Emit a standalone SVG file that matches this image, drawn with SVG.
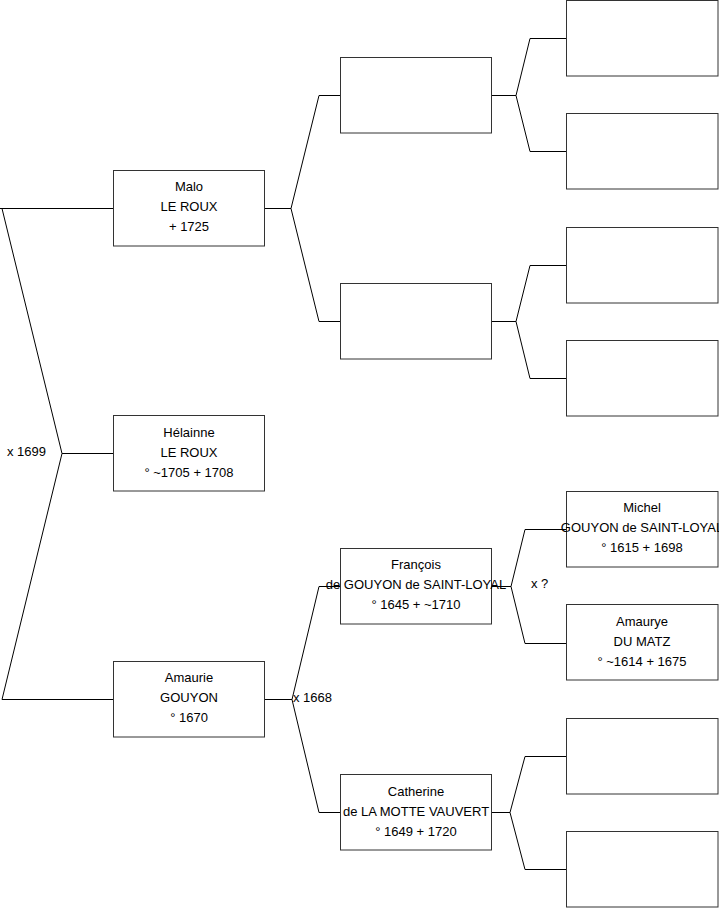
<svg xmlns="http://www.w3.org/2000/svg" width="719" height="908" viewBox="0 0 719 908">
<style>
.box{fill:#fff;stroke:#333;stroke-width:1}
.ln{fill:none;stroke:#000;stroke-width:1}
text{font-family:"Liberation Sans",Arial,sans-serif;font-size:13px;fill:#000}
.c{text-anchor:middle}
</style>
<rect width="719" height="908" fill="#fff"/>
<g id="connectors">
<path class="ln" d="M0,208.5 H113.5 M2,208.5 L62,453.5 L2,699.5 H113.5 M62,453.5 H113.5"/>
<path class="ln" d="M264.5,208.5 H291 L319,95.5 H340.5 M291,208.5 L319,321.5 H340.5"/>
<path class="ln" d="M491.5,95.5 H516 L530,38.5 H566.5 M516,95.5 L530,151.5 H566.5"/>
<path class="ln" d="M491.5,321.5 H516 L530,265.5 H566.5 M516,321.5 L530,378.5 H566.5"/>
<path class="ln" d="M264.5,699.5 H292 L319,586.5 H340.5 M292,699.5 L319,812.5 H340.5"/>
<path class="ln" d="M491.5,586.5 H511 L525,529.5 H566.5 M511,586.5 L525,643.5 H566.5"/>
<path class="ln" d="M491.5,812.5 H510 L525,756.5 H566.5 M510,812.5 L525,869.5 H566.5"/>
<text x="7" y="456">x 1699</text>
<text x="293" y="702">x 1668</text>
<text x="531" y="588">x ?</text>
</g>
<g id="malo"><rect class="box" x="113.5" y="170.5" width="151" height="75.5"/>
<text class="c" x="189" y="191">Malo</text><text class="c" x="189" y="211">LE ROUX</text><text class="c" x="189" y="231">+ 1725</text></g>
<g id="helainne"><rect class="box" x="113.5" y="415.5" width="151" height="75.5"/>
<text class="c" x="189" y="437">Hélainne</text><text class="c" x="189" y="457">LE ROUX</text><text class="c" x="189" y="477">° ~1705 + 1708</text></g>
<g id="amaurie"><rect class="box" x="113.5" y="661.5" width="151" height="75.5"/>
<text class="c" x="189" y="682">Amaurie</text><text class="c" x="189" y="702">GOUYON</text><text class="c" x="189" y="722">° 1670</text></g>
<g id="p1"><rect class="box" x="340.5" y="57.5" width="151" height="75.5"/></g>
<g id="p2"><rect class="box" x="340.5" y="283.5" width="151" height="75.5"/></g>
<g id="francois"><rect class="box" x="340.5" y="548.5" width="151" height="75.5"/>
<text class="c" x="416" y="569">François</text><text class="c" x="416" y="589">de GOUYON de SAINT-LOYAL</text><text class="c" x="416" y="609">° 1645 + ~1710</text></g>
<g id="catherine"><rect class="box" x="340.5" y="774.5" width="151" height="75.5"/>
<text class="c" x="416" y="796">Catherine</text><text class="c" x="416" y="816">de LA MOTTE VAUVERT</text><text class="c" x="416" y="836">° 1649 + 1720</text></g>
<g id="g1"><rect class="box" x="566.5" y="0.5" width="151.5" height="75.5"/></g>
<g id="g2"><rect class="box" x="566.5" y="113.5" width="151.5" height="75.5"/></g>
<g id="g3"><rect class="box" x="566.5" y="227.5" width="151.5" height="75.5"/></g>
<g id="g4"><rect class="box" x="566.5" y="340.5" width="151.5" height="75.5"/></g>
<g id="michel"><rect class="box" x="566.5" y="491.5" width="151.5" height="75.5"/>
<text class="c" x="642" y="512">Michel</text><text class="c" x="642" y="532">GOUYON de SAINT-LOYAL</text><text class="c" x="642" y="552">° 1615 + 1698</text></g>
<g id="amaurye"><rect class="box" x="566.5" y="604.5" width="151.5" height="75.5"/>
<text class="c" x="642" y="626">Amaurye</text><text class="c" x="642" y="646">DU MATZ</text><text class="c" x="642" y="666">° ~1614 + 1675</text></g>
<g id="g7"><rect class="box" x="566.5" y="718.5" width="151.5" height="75.5"/></g>
<g id="g8"><rect class="box" x="566.5" y="831.5" width="151.5" height="75.5"/></g>
</svg>
